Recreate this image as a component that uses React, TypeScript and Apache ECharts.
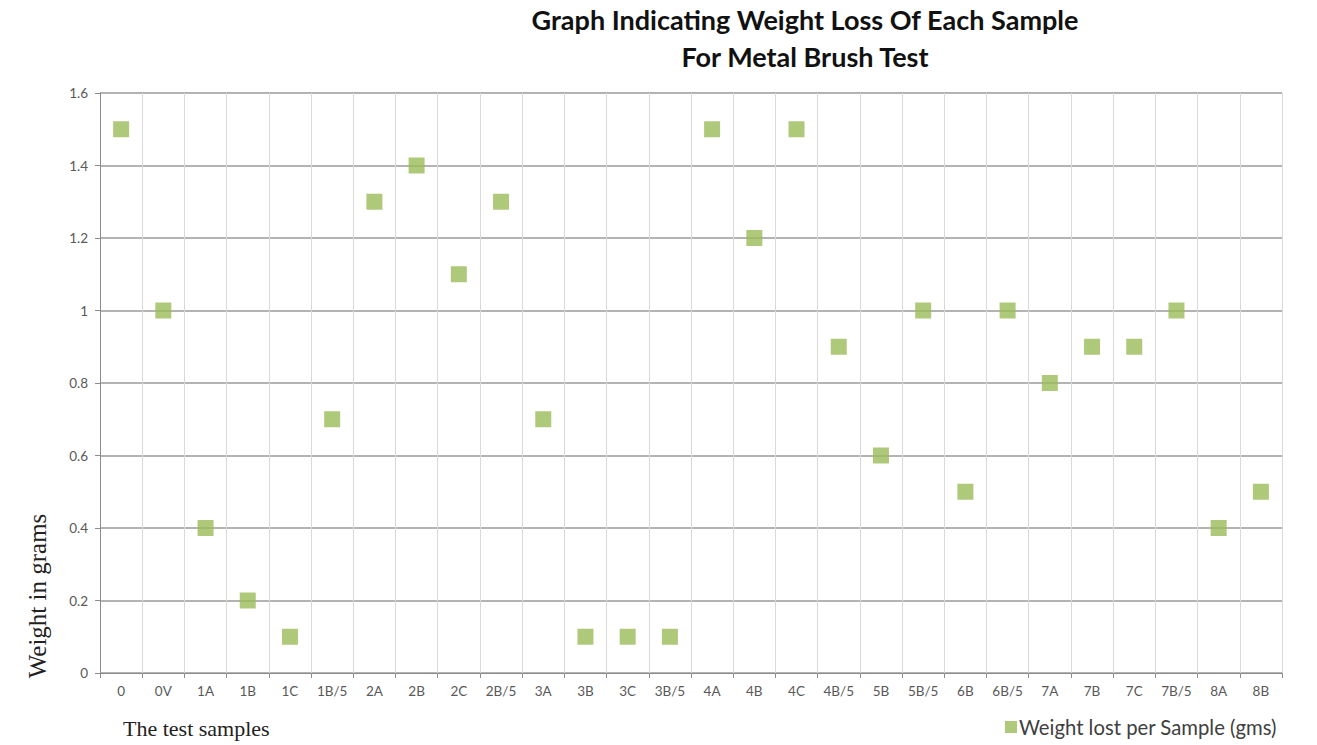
import React, { useEffect, useRef } from "react";
import * as echarts from "echarts";

const categories = ["0", "0V", "1A", "1B", "1C", "1B/5", "2A", "2B", "2C", "2B/5", "3A", "3B", "3C", "3B/5", "4A", "4B", "4C", "4B/5", "5B", "5B/5", "6B", "6B/5", "7A", "7B", "7C", "7B/5", "8A", "8B"];
const weightLost = [1.5, 1.0, 0.4, 0.2, 0.1, 0.7, 1.3, 1.4, 1.1, 1.3, 0.7, 0.1, 0.1, 0.1, 1.5, 1.2, 1.5, 0.9, 0.6, 1.0, 0.5, 1.0, 0.8, 0.9, 0.9, 1.0, 0.4, 0.5];
const titleLines = ["Graph Indicating Weight Loss Of Each Sample", "For Metal Brush Test"];
const seriesName = "Weight lost per Sample (gms)";
const yAxisTitle = "Weight in grams";
const xAxisTitle = "The test samples";

export default function App() {
  const ref = useRef<HTMLDivElement>(null);
  useEffect(() => {
    if (!ref.current) return;
    const chart = echarts.init(ref.current, null, { renderer: "svg" });
    const tickLabel = { color: "#595959", fontFamily: "Lato, 'Open Sans', sans-serif", fontSize: 13.5 };
    chart.setOption({
      animation: false,
      backgroundColor: "#ffffff",
      title: {
        text: titleLines.join("\n"),
        left: 800,
        textAlign: "center",
        top: -4,
        textStyle: { fontFamily: "Lato, 'Open Sans', sans-serif", fontWeight: "bold", fontSize: 27, color: "#111", lineHeight: 37 },
      },
      grid: { left: 100, right: 35, top: 93, bottom: 72, containLabel: false },
      legend: {
        data: [{ name: seriesName, icon: "rect" }],
        left: 1000,
        top: 712,
        itemWidth: 12,
        itemHeight: 12,
        itemGap: 4,
        textStyle: { color: "#404040", fontFamily: "Lato, 'Open Sans', sans-serif", fontSize: 20.3, padding: [0, 0, 0, -3] },
      },
      xAxis: {
        type: "category",
        data: categories,
        boundaryGap: true,
        axisLine: { show: true, lineStyle: { color: "#8c8c8c", width: 1 } },
        axisTick: { show: true, length: 5, interval: 0, lineStyle: { color: "#8c8c8c" } },
        axisLabel: { ...tickLabel, interval: 0, margin: 11 },
        splitLine: { show: true, interval: 0, lineStyle: { color: "#d9d9d9", width: 1 } },
      },
      yAxis: {
        type: "value",
        min: 0,
        max: 1.6,
        interval: 0.2,
        axisLine: { show: true, lineStyle: { color: "#8c8c8c", width: 1 } },
        axisTick: { show: true, length: 5, lineStyle: { color: "#8c8c8c" } },
        axisLabel: { ...tickLabel, margin: 12 },
        splitLine: { show: true, lineStyle: { color: "#9a9a9a", width: 1.5 } },
      },
      series: [
        {
          name: seriesName,
          type: "scatter",
          symbol: "rect",
          symbolSize: 16,
          data: weightLost,
          itemStyle: { color: "#9bbb59" },
        },
      ],
      graphic: [
        {
          type: "text",
          x: 37,
          y: 596,
          rotation: Math.PI / 2,
          style: { text: yAxisTitle, fontFamily: "'Liberation Serif', 'DejaVu Serif', serif", fontSize: 25, fill: "#222", align: "center", verticalAlign: "middle" },
        },
        {
          type: "text",
          x: 123,
          y: 728,
          style: { text: xAxisTitle, fontFamily: "'Liberation Serif', 'DejaVu Serif', serif", fontSize: 22, fill: "#222", align: "left", verticalAlign: "middle" },
        },
      ],
    });
    return () => chart.dispose();
  }, []);
  return <div ref={ref} style={{ width: 1317, height: 745, position: "absolute", left: 0, top: 0 }} />;
}
